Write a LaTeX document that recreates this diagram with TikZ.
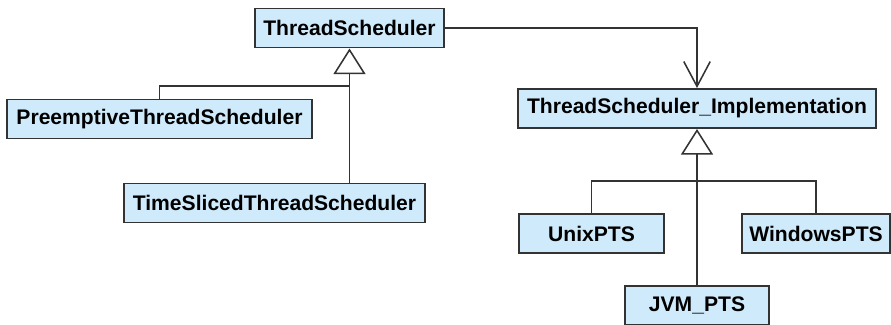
\documentclass[tikz,border=0pt]{standalone}
\usepackage{fontspec}
\setmainfont{Liberation Sans}
\usetikzlibrary{arrows.meta}
\definecolor{BoxBlue}{HTML}{CFEAFB}
\definecolor{LineGrey}{HTML}{333333}

\begin{document}
\begin{tikzpicture}[x=0.025cm,y=-0.025cm,
    cls/.style={draw=LineGrey,fill=BoxBlue,line width=1.4pt,inner sep=0pt,
      minimum height=0.975cm,font=\fontsize{15}{18}\selectfont\bfseries},
    conn/.style={draw=LineGrey,line width=1.1pt},
    inherit/.style={conn,-{Triangle[open,length=0.64cm,width=0.8cm,line width=1.1pt]}},
    navig/.style={conn,-{Straight Barb[length=0.62cm,width=0.66cm,line width=1.1pt]}}]
  \useasboundingbox (0,0) rectangle (891,324);

  \node[cls,minimum width=4.725cm] (ts)   at (349.5,28)  {ThreadScheduler};
  \node[cls,minimum width=7.625cm] (pre)  at (159.5,119) {PreemptiveThreadScheduler};
  \node[cls,minimum width=7.525cm] (tsl)  at (274.5,203) {TimeSlicedThreadScheduler};

  \node[cls,minimum width=8.95cm]  (impl) at (697,108.5) {ThreadScheduler\_Implementation};
  \node[cls,minimum width=3.625cm] (unix) at (591.5,233.5) {UnixPTS};
  \node[cls,minimum width=3.7cm]   (win)  at (816,233.5) {WindowsPTS};
  \node[cls,minimum width=3.6cm]   (jvm)  at (697,305.5) {JVM\_PTS};

  \coordinate (tsjoin)   at (349.5,86);
  \coordinate (impljoin) at (697,181);

  \draw[inherit] (tsl.north -| ts.south) -- (ts.south);
  \draw[conn] (pre.north) |- (tsjoin);

  \draw[inherit] (jvm.north) -- (impl.south);
  \draw[conn] (unix.north) |- (impljoin) -| (win.north);

  \draw[navig] (ts.east) -| (impl.north);

\end{tikzpicture}
\end{document}
